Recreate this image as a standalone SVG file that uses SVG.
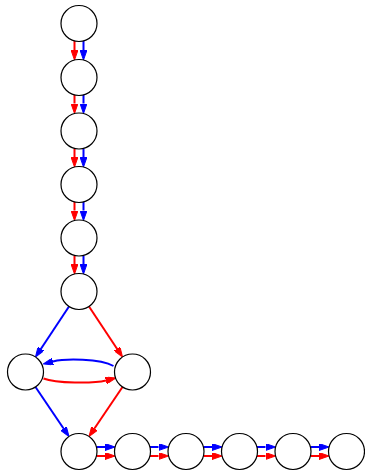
<svg xmlns="http://www.w3.org/2000/svg" width="365" height="472" viewBox="0 0 365 472">
<style>
.n{fill:#fff;stroke:#000;stroke-width:1.2}
.r{stroke:#f00;stroke-width:2;fill:none;marker-end:url(#ar)}
.b{stroke:#00f;stroke-width:2;fill:none;marker-end:url(#ab)}
</style>
<defs>
<marker id="ar" markerUnits="userSpaceOnUse" markerWidth="10" markerHeight="7" refX="0" refY="3.5" orient="auto"><path d="M0,0 L10,3.5 L0,7 z" fill="#f00" stroke="#f00" stroke-width="1"/></marker>
<marker id="ab" markerUnits="userSpaceOnUse" markerWidth="10" markerHeight="7" refX="0" refY="3.5" orient="auto"><path d="M0,0 L10,3.5 L0,7 z" fill="#00f" stroke="#00f" stroke-width="1"/></marker>
</defs>
<g id="edges">
<line class="r" x1="74.5" y1="41" x2="74.5" y2="50"/>
<line class="b" x1="83.5" y1="41" x2="83.5" y2="50"/>
<line class="r" x1="74.5" y1="95" x2="74.5" y2="103.5"/>
<line class="b" x1="83.5" y1="95" x2="83.5" y2="103.5"/>
<line class="r" x1="74.5" y1="148.5" x2="74.5" y2="157"/>
<line class="b" x1="83.5" y1="148.5" x2="83.5" y2="157"/>
<line class="r" x1="74.5" y1="202" x2="74.5" y2="210.5"/>
<line class="b" x1="83.5" y1="202" x2="83.5" y2="210.5"/>
<line class="r" x1="74.5" y1="255.5" x2="74.5" y2="264"/>
<line class="b" x1="83.5" y1="255.5" x2="83.5" y2="264"/>
<line class="b" x1="69" y1="306.5" x2="41" y2="348.7"/>
<line class="r" x1="89" y1="306.5" x2="117" y2="348.7"/>
<path class="b" d="M113.5,366 C100,358.5 65,358.5 53,361.5"/>
<path class="r" d="M43.5,378.5 C56,383.5 94,383.5 106,380.5"/>
<line class="b" x1="35.5" y1="387" x2="63.4" y2="428.3"/>
<line class="r" x1="122.5" y1="387" x2="94.6" y2="428.3"/>
<line class="b" x1="96.5" y1="447" x2="105" y2="447"/>
<line class="r" x1="96.5" y1="456" x2="105" y2="456"/>
<line class="b" x1="150" y1="447" x2="158.5" y2="447"/>
<line class="r" x1="150" y1="456" x2="158.5" y2="456"/>
<line class="b" x1="203.5" y1="447" x2="212" y2="447"/>
<line class="r" x1="203.5" y1="456" x2="212" y2="456"/>
<line class="b" x1="257" y1="447" x2="265.5" y2="447"/>
<line class="r" x1="257" y1="456" x2="265.5" y2="456"/>
<line class="b" x1="310.5" y1="447" x2="319" y2="447"/>
<line class="r" x1="310.5" y1="456" x2="319" y2="456"/>
</g>
<g id="n1"><circle class="n" cx="79" cy="23.5" r="18"/></g>
<g id="n2"><circle class="n" cx="79" cy="77.5" r="18"/></g>
<g id="n3"><circle class="n" cx="79" cy="131" r="18"/></g>
<g id="n4"><circle class="n" cx="79" cy="184.5" r="18"/></g>
<g id="n5"><circle class="n" cx="79" cy="238" r="18"/></g>
<g id="n6"><circle class="n" cx="79" cy="291.5" r="18"/></g>
<g id="n7"><circle class="n" cx="25.5" cy="372" r="18"/></g>
<g id="n8"><circle class="n" cx="132.5" cy="372" r="18"/></g>
<g id="n9"><circle class="n" cx="79" cy="451.5" r="18"/></g>
<g id="n10"><circle class="n" cx="132.5" cy="451.5" r="18"/></g>
<g id="n11"><circle class="n" cx="186" cy="451.5" r="18"/></g>
<g id="n12"><circle class="n" cx="239.5" cy="451.5" r="18"/></g>
<g id="n13"><circle class="n" cx="293" cy="451.5" r="18"/></g>
<g id="n14"><circle class="n" cx="346.5" cy="451.5" r="18"/></g>
</svg>
